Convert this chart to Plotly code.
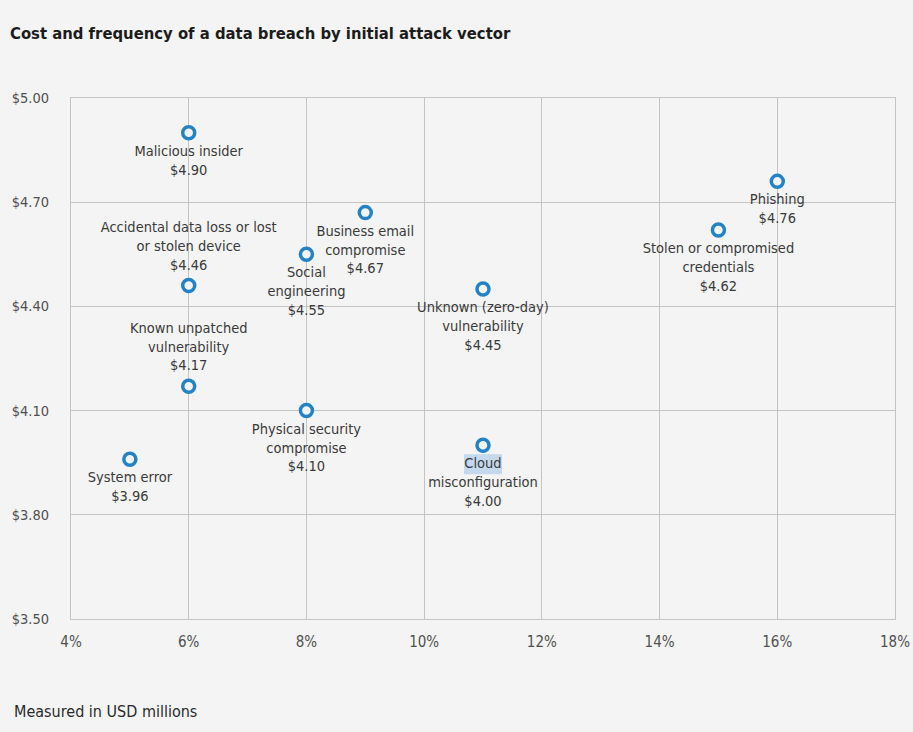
import plotly.graph_objects as go

vectors = [
    "Malicious insider",
    "Accidental data loss or lost<br>or stolen device",
    "Known unpatched<br>vulnerability",
    "System error",
    "Social<br>engineering",
    "Business email<br>compromise",
    "Physical security<br>compromise",
    "Unknown (zero-day)<br>vulnerability",
    "Cloud<br>misconfiguration",
    "Stolen or compromised<br>credentials",
    "Phishing",
]
frequency_pct = [6, 6, 6, 5, 8, 9, 8, 11, 11, 15, 16]
cost_musd = [4.90, 4.46, 4.17, 3.96, 4.55, 4.67, 4.10, 4.45, 4.00, 4.62, 4.76]
label_pos = ["bottom center", "top center", "top center", "bottom center",
             "bottom center", "bottom center", "bottom center", "bottom center",
             "bottom center", "bottom center", "bottom center"]

x_ticks = [4, 6, 8, 10, 12, 14, 16, 18]
y_ticks = [3.50, 3.80, 4.10, 4.40, 4.70, 5.00]

FONT = "Liberation Sans Narrow, DejaVu Sans Condensed, Arial Narrow, sans-serif"
BG = "#f4f4f4"

texts = [f"{v}<br>${c:.2f}" for v, c in zip(vectors, cost_musd)]

fig = go.Figure()
# labels (transparent spacer markers set the label offset)
fig.add_trace(go.Scatter(
    x=frequency_pct, y=cost_musd, mode="markers+text",
    text=texts, textposition=label_pos,
    textfont=dict(family=FONT, size=14.5, color="#3a3a3a"),
    marker=dict(size=18, opacity=0),
    hoverinfo="skip", showlegend=False,
))
# visible hollow markers
fig.add_trace(go.Scatter(
    x=frequency_pct, y=cost_musd, mode="markers",
    marker=dict(size=12, color=BG, line=dict(color="#2383c6", width=3.5)),
    hoverinfo="skip", showlegend=False,
))

# selection highlight behind the word "Cloud"
hl_idx = vectors.index("Cloud<br>misconfiguration")

fig.update_layout(
    width=913, height=732,
    paper_bgcolor=BG, plot_bgcolor=BG,
    margin=dict(l=71, r=18, t=98, b=113, autoexpand=False),
    font=dict(family=FONT, color="#4a4a4a"),
    title=dict(text="<b>Cost and frequency of a data breach by initial attack vector</b>",
               x=0.011, xanchor="left", y=0.955, yanchor="middle",
               font=dict(family=FONT, size=16.5, color="#1c1c1c")),
    annotations=[
        dict(text="Measured in USD millions", x=-0.0716, xref="paper",
             y=-0.1785, yref="paper", xanchor="left", yanchor="middle",
             showarrow=False,
             font=dict(family=FONT, size=16, color="#2a2a2a")),
    ],
    shapes=[
        dict(type="rect", xref="x", yref="y", xsizemode="pixel", ysizemode="pixel",
             xanchor=frequency_pct[hl_idx], yanchor=cost_musd[hl_idx],
             x0=-19, x1=19, y0=-29, y1=-9, layer="below",
             fillcolor="#c4d9ee", line=dict(width=0)),
    ],
)
fig.update_xaxes(range=[4, 18], tickvals=x_ticks,
                 ticktext=[f"{t}%" for t in x_ticks],
                 showgrid=True, gridcolor="#c4c4c4", gridwidth=1,
                 zeroline=False, showline=True, linecolor="#c4c4c4", mirror=True,
                 ticks="outside", ticklen=9, tickcolor=BG, automargin=False,
                 tickfont=dict(family=FONT, size=15, color="#505050"))
fig.update_yaxes(range=[3.5, 5.0], tickvals=y_ticks,
                 ticktext=[f"${t:.2f}" for t in y_ticks],
                 showgrid=True, gridcolor="#c4c4c4", gridwidth=1,
                 zeroline=False, showline=True, linecolor="#c4c4c4", mirror=True,
                 ticks="outside", ticklen=18, tickcolor=BG, automargin=False,
                 tickfont=dict(family=FONT, size=14.5, color="#505050"))

fig.write_html("out.html", config={"displayModeBar": False},
               post_script="document.body.style.margin='0';"
                           "document.body.style.background='#f4f4f4';")
